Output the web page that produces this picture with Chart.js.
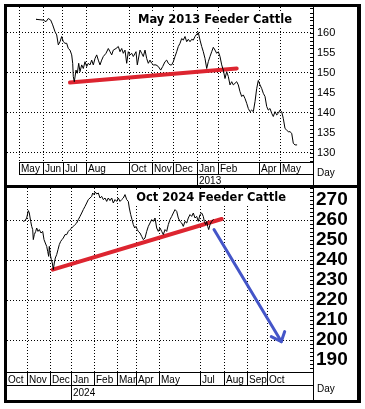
<!DOCTYPE html>
<html><head><meta charset="utf-8">
<script src="https://cdn.jsdelivr.net/npm/chart.js@4.4.1/dist/chart.umd.min.js"></script>
<style>
html,body{margin:0;padding:0;background:#fff;width:365px;height:409px;overflow:hidden}
#wrap{position:relative;width:365px;height:409px}
canvas{position:absolute;left:0}
.b{position:absolute;background:#000}
</style></head><body>
<div id="wrap">
<canvas id="c1" width="365" height="185" style="top:0;width:365px;height:185px"></canvas>
<canvas id="c2" width="365" height="212" style="top:188px;width:365px;height:212px"></canvas>
<div class="b" style="left:4px;top:4px;width:357px;height:3px"></div>
<div class="b" style="left:4px;top:185px;width:357px;height:3px"></div>
<div class="b" style="left:4px;top:400px;width:357px;height:3px"></div>
<div class="b" style="left:4px;top:4px;width:3px;height:399px"></div>
<div class="b" style="left:357px;top:4px;width:4px;height:399px"></div>
</div>
<script>
// ---------- Top panel: May 2013 Feeder Cattle ----------
const topTitle = 'May 2013 Feeder Cattle';
const topMonthLabels = ['May','Jun','Jul','Aug','Oct','Nov','Dec','Jan','Feb','Apr','May'];
const topMonthDays = [12,36,56,79,122,145,166,190,211,252,273];
const topYearLabel = '2013';
const topYearDay = 190;
const topTickValues = [130,135,140,145,150,155,160];
const topGridValues = [130,140,150,160];
const topDays = [29,36.3,39,41.3,43.7,45.7,48,49.7,51.3,53,
54.7,56.3,58,59.7,61.3,63,64.7,65.7,66.3,67.3,
69,70.3,71.7,73,74.7,76.3,78,79.7,81.3,83,
84.7,86.3,88,89.7,91.3,93,94.7,96.3,99,101.3,
103,104.7,106.3,109,111.3,113,114.7,116.3,118,119.7,
121.3,123,124.7,126.3,129,130.3,133,134.7,136.3,138,
139.7,141.3,143,144.7,146.3,149,151.3,153.7,155.7,158,
159.7,161.3,163,164.7,166.3,168,169.7,171.3,173,174.7,
176.3,178,179.7,181.3,183,184.7,186.3,188,189.7,191.3,
193,194.7,196.3,198,199.7,201.3,203,204.7,206.3,208,
209.7,211.3,213,214.7,216.3,218,219.7,221.3,223,224.7,
226.3,228,229.7,231.3,233,234.7,236.3,238,239.7,241.3,
243,244.7,246.3,248,249.7,251.3,253,254.7,256.3,258,
259.7,261.3,263,264.7,266.3,268,269.7,271.3,273,274.7,
276.3,278,279.7,281.3,283,284.7,286.3,288,289.7];
const topPrices = [163.3,163.1,162.7,163.5,163.1,161.9,160.2,159.4,156.9,157.7,
159.0,157.7,157.3,157.3,156.0,155.6,154.4,152.3,149.0,147.7,
150.6,149.8,152.3,150.2,151.9,151.0,152.7,151.5,152.3,151.9,
153.1,151.9,153.5,154.4,153.1,151.9,153.1,154.0,154.8,156.0,
155.2,154.4,155.6,156.0,156.5,155.2,156.0,154.8,155.6,152.3,
155.2,154.4,154.8,154.0,155.2,151.9,155.6,154.8,154.0,155.6,
153.5,152.3,153.1,152.3,151.9,151.9,151.5,150.6,151.5,152.7,
153.1,152.3,151.9,151.9,152.7,154.0,155.2,156.5,157.3,158.5,
158.1,159.0,157.7,158.3,157.7,158.3,158.1,159.0,159.6,160.0,
158.1,156.5,155.2,153.5,151.0,152.7,154.0,155.2,156.3,155.6,
154.8,155.2,154.0,151.9,150.6,148.5,150.2,149.0,146.9,147.7,
146.9,147.3,147.7,146.9,145.2,144.0,144.4,143.5,142.3,141.0,
140.2,140.6,140.2,142.7,146.0,148.0,146.9,146.0,144.8,144.0,
141.5,140.6,141.0,139.8,139.0,140.2,139.4,139.8,140.6,140.2,
138.5,136.0,135.6,135.2,135.2,134.8,132.3,131.9,131.9];
const topTrendDays = [63, 229.7];
const topTrendPrices = [147.5, 151.0];

// ---------- Bottom panel: Oct 2024 Feeder Cattle ----------
const botTitle = 'Oct 2024 Feeder Cattle';
const botMonthLabels = ['Oct','Nov','Dec','Jan','Feb','Mar','Apr','May','Jul','Aug','Sep','Oct'];
const botMonthDays = [-1,20,43,64,87,110,129,152,193,217,240,260];
const botYearLabel = '2024';
const botYearDay = 64;
const botTickValues = [190,200,210,220,230,240,250,260,270];
const botGridValues = [200,220,240,260];
const botDays = [16.3,18,19.7,21.3,22.3,23.7,24.7,25.7,26.3,27.3,
28.7,29.7,31,32.3,34,35.7,37,38.3,39.7,40.7,
41.7,42.3,43.3,44.3,45.3,46.3,47.3,48.3,49.7,51,
52.3,53.7,55,56.3,58,59.7,61.3,63,64.7,66.3,
68,69.7,71.3,73,74.7,76.3,78,79.7,81.3,83,
84.7,85.7,87,88.3,89.7,91.3,93,94.7,96.3,98,
99.7,101.3,103,104.7,106.3,108,109.7,111.3,113,114.7,
116.3,118,119.7,121.3,122.3,123.7,125,126.3,127.7,129,
130.3,131.3,133,134.7,136.3,138,139.7,141.3,143,144.7,
146.3,148,149.7,151.3,153,154.7,156.3,158,159.7,161.3,
163,164.7,166.3,168,169.7,171.3,173,174.7,176.3,178,
179.7,181.3,183,184.7,186.3,188,189.7,191.3,193,194.7,
196.3,197.3,198.7,199.7,200.7,201.7,203,204.7,206.3];
const botPrices = [259.3,259.7,261.0,264.7,263.5,259.3,256.8,255.2,250.2,252.7,
254.3,256.0,254.3,255.2,253.5,254.3,250.2,248.5,246.8,244.3,
241.8,246.8,242.7,240.2,238.5,235.2,238.5,241.0,242.7,245.2,
247.7,249.3,250.2,251.0,252.7,252.7,254.3,255.2,256.0,256.8,
257.7,258.5,260.2,261.8,263.5,265.2,266.8,268.5,270.2,271.0,
271.8,273.5,272.7,274.0,273.0,273.5,271.0,271.8,270.2,271.0,
269.3,271.0,269.7,271.0,268.5,270.2,269.3,271.0,269.3,270.2,
271.0,272.7,270.2,269.3,266.0,262.7,260.2,257.7,256.0,256.8,
255.2,254.3,253.5,251.8,250.2,251.0,254.3,256.8,258.5,260.2,
259.3,261.0,256.0,254.3,256.0,254.3,252.7,255.2,254.3,257.7,
260.2,261.8,263.5,265.2,264.3,261.0,259.3,258.5,256.8,259.3,
258.5,261.0,262.7,261.8,263.5,261.0,261.8,259.3,262.7,263.5,
261.8,259.3,257.7,259.3,256.8,255.2,257.7,259.3,260.2];
const botTrendDays = [45.7, 214.7];
const botTrendPrices = [235.2, 260.5];
const arrowShaftDays = [207, 274.3];
const arrowShaftPrices = [255.2, 199.2];
const arrowHeadDays = [264.3, 274.3, 277.7];
const arrowHeadPrices = [201.7, 199.2, 204.2];

const zip = (xs, ys) => xs.map((x, i) => ({x: x, y: ys[i]}));

function decor(o) {
  return {
    id: 'decor',
    afterDraw(chart) {
      const ctx = chart.ctx, ca = chart.chartArea, xs = chart.scales.x, ys = chart.scales.y;
      const H = chart.height;
      ctx.save();
      ctx.strokeStyle = '#000'; ctx.fillStyle = '#000'; ctx.lineWidth = 1; ctx.setLineDash([]);
      const L = (x1, y1, x2, y2) => { ctx.beginPath(); ctx.moveTo(x1, y1); ctx.lineTo(x2, y2); ctx.stroke(); };
      const R = ca.right + 0.5;
      L(R, ca.top, R, H);
      for (let v = Math.ceil(ys.min / o.minorStep) * o.minorStep; v <= ys.max; v += o.minorStep) {
        const y = Math.round(ys.getPixelForValue(v)) + 0.5;
        L(ca.right - 3, y, ca.right, y);
      }
      const t = ca.bottom + 0.5, m = ca.bottom + o.rowH + 0.5;
      const sx = Math.max(ca.left, Math.round(xs.getPixelForValue(o.monthDays[0])));
      L(sx, t, R, t); L(sx, m, R, m);
      ctx.save();
      ctx.beginPath(); ctx.rect(ca.left + 1, ca.bottom, ca.right - ca.left, H - ca.bottom); ctx.clip();
      ctx.font = o.smallFont; ctx.textBaseline = 'alphabetic'; ctx.textAlign = 'left';
      o.monthDays.forEach((d, i) => {
        const px = Math.round(xs.getPixelForValue(d));
        L(px + 0.5, t, px + 0.5, m);
        ctx.fillText(o.monthLabels[i], px + 2, ca.bottom + o.monthBase);
      });
      const yp = Math.round(xs.getPixelForValue(o.yearDay));
      L(yp + 0.5, m, yp + 0.5, H);
      ctx.fillText(o.yearLabel, yp + 2, ca.bottom + o.yearBase);
      ctx.restore();
      ctx.font = o.smallFont; ctx.textAlign = 'left'; ctx.textBaseline = 'alphabetic';
      ctx.fillText('Day', ca.right + 4, ca.bottom + o.dayBase);
      ctx.font = o.titleFont; ctx.textAlign = 'right';
      const w = ctx.measureText(o.title).width;
      ctx.fillStyle = '#fff'; ctx.fillRect(o.titleX - w - 2, o.titleY - 10, w + 4, 13);
      ctx.fillStyle = '#000'; ctx.fillText(o.title, o.titleX, o.titleY);
      ctx.restore();
    }
  };
}

function makeChart(id, o) {
  const ds = [
    {data: zip(o.days, o.prices), borderColor: '#000', borderWidth: 1},
    {data: zip(o.trendDays, o.trendPrices), borderColor: '#dd2530', borderWidth: 4}
  ];
  if (o.arrow) {
    ds.push({data: zip(arrowShaftDays, arrowShaftPrices), borderColor: '#4455c8', borderWidth: 3});
    ds.push({data: zip(arrowHeadDays, arrowHeadPrices), borderColor: '#4455c8', borderWidth: 3});
  }
  return new Chart(document.getElementById(id), {
    type: 'line',
    data: {datasets: ds},
    options: {
      responsive: false, animation: false, events: [],
      layout: {padding: {left: 7, top: o.padTop, right: 0, bottom: 0}},
      plugins: {legend: {display: false}, tooltip: {enabled: false}},
      elements: {point: {radius: 0}, line: {tension: 0, borderJoinStyle: 'round', borderCapStyle: 'round'}},
      scales: {
        x: {
          type: 'linear', min: 0, max: 306, position: 'bottom',
          afterBuildTicks: s => { s.ticks = o.monthDays.filter(d => d > 0 && d < 306).map(v => ({value: v})); },
          afterFit: s => { s.height = o.stripH; s.paddingLeft = 0; s.paddingRight = 0; s.paddingTop = 0; s.paddingBottom = 0; },
          ticks: {display: false},
          grid: {color: '#000', lineWidth: 1, drawTicks: false},
          border: {display: false, dash: [1, 2]}
        },
        y: {
          type: 'linear', position: 'right', min: o.yMin, max: o.yMax,
          afterBuildTicks: s => { s.ticks = o.tickValues.map(v => ({value: v})); },
          afterFit: s => { s.width = 52; s.paddingTop = 0; s.paddingBottom = 0; },
          ticks: {font: o.tickFont, color: '#000', padding: o.tickPad, autoSkip: false, callback: v => String(v)},
          grid: {color: c => (c.tick && o.gridValues.includes(c.tick.value)) ? '#000' : 'rgba(0,0,0,0)', lineWidth: 1, drawTicks: false},
          border: {display: false, dash: [1, 2]}
        }
      }
    },
    plugins: [decor(o)]
  });
}

makeChart('c1', {
  days: topDays, prices: topPrices, trendDays: topTrendDays, trendPrices: topTrendPrices, arrow: false,
  monthDays: topMonthDays, monthLabels: topMonthLabels, yearDay: topYearDay, yearLabel: topYearLabel,
  tickValues: topTickValues, gridValues: topGridValues,
  yMin: 127.625, yMax: 166.375, padTop: 7, stripH: 23, minorStep: 1,
  tickFont: {family: '"Liberation Sans", Arial, sans-serif', size: 11}, tickPad: 4,
  smallFont: '10px "Liberation Sans", Arial, sans-serif',
  rowH: 12, monthBase: 10, yearBase: 22, dayBase: 14,
  title: topTitle, titleFont: 'bold 11.5px "DejaVu Sans", sans-serif', titleX: 292, titleY: 23
});
makeChart('c2', {
  days: botDays, prices: botPrices, trendDays: botTrendDays, trendPrices: botTrendPrices, arrow: true,
  monthDays: botMonthDays, monthLabels: botMonthLabels, yearDay: botYearDay, yearLabel: botYearLabel,
  tickValues: botTickValues, gridValues: botGridValues,
  yMin: 184, yMax: 276, padTop: 0, stripH: 28, minorStep: 2,
  tickFont: {family: '"Liberation Sans", Arial, sans-serif', size: 19, weight: 'bold'}, tickPad: 3,
  smallFont: '10px "Liberation Sans", Arial, sans-serif',
  rowH: 13, monthBase: 11, yearBase: 24, dayBase: 20,
  title: botTitle, titleFont: 'bold 11.5px "DejaVu Sans", sans-serif', titleX: 286, titleY: 13
});
</script>
</body></html>
